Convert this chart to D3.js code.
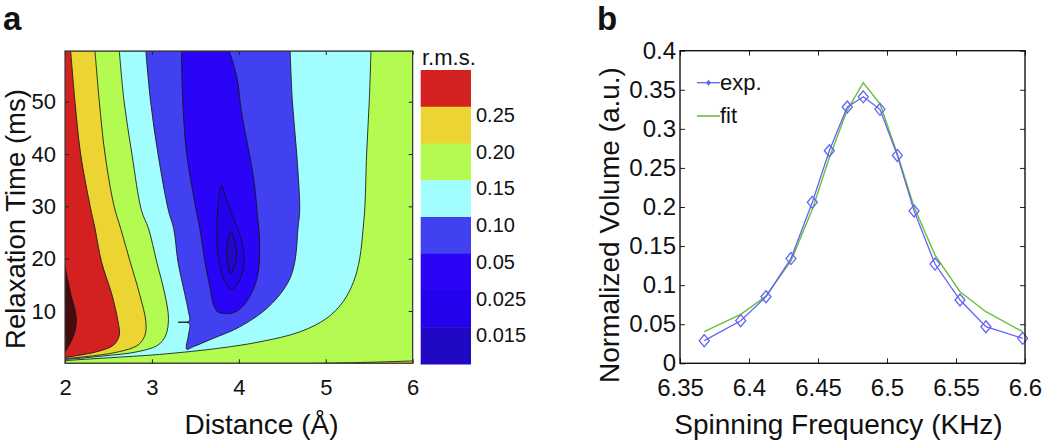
<!DOCTYPE html>
<html>
<head>
<meta charset="utf-8">
<script src="https://cdn.jsdelivr.net/npm/d3@7"></script>
<style>
  body { margin: 0; background: #fff; }
  text { font-family: "Liberation Sans", Arial, Helvetica, sans-serif; fill: #111; }
</style>
</head>
<body>
<svg id="fig" width="1050" height="444"></svg>
<script>

// ---------------------------//
//       DATA                 //
// ---------------------------//

// panel a : axes
var distTicks = [2, 3, 4, 5, 6];
var timeTicks = [10, 20, 30, 40, 50];
var timeMax = 59.7;

// panel a : colorbar levels (r.m.s.)
var rmsLabels = ["0.25", "0.20", "0.15", "0.10", "0.05", "0.025", "0.015"];

// panel a : contour lines, [distance (A), relaxation time (ms)]
var line030 = [[2.0,18.5],[2.03,16],[2.07,13],[2.11,10.5],[2.13,8.6],[2.12,6.5],[2.08,4.5],[2.03,3.0],[2.0,2.2]];
var line025 = [[2.065,59.7],[2.115,50],[2.18,40],[2.29,30],[2.345,25.8],[2.42,19.4],[2.54,13.1],[2.61,8.0],
               [2.625,5.4],[2.56,3.5],[2.365,2.2],[2.13,1.45],[2.0,1.1]];
var line020 = [[2.345,59.7],[2.395,50],[2.46,40],[2.565,30],[2.64,25.8],[2.75,19.4],[2.86,13.1],[2.93,8.0],
               [2.92,5.4],[2.84,3.5],[2.59,2.1],[2.25,1.3],[2.0,0.9]];
var line020low = [[4.8,0],[5.4,0.15],[6,0.45]];
var line015 = [[2.625,59.7],[2.68,50],[2.77,40],[2.88,29.2],[2.96,25.8],[3.055,19.4],[3.15,13.1],[3.19,8.6],
               [3.16,5.4],[3.07,3.5],[2.83,2.2],[2.44,1.4],[2.06,0.8],[2.0,0.72]];
var line015low = [[2.0,0.5],[2.10,0.63],[2.52,1.07],[3.09,1.7],[3.78,2.9],[4.24,4.1],[4.70,6.0],[5.01,8.6],
                  [5.20,11.8],[5.32,15.6],[5.39,20],[5.43,25.8],[5.45,30],[5.47,40],[5.50,50],[5.52,59.7]];
var line010 = [[2.93,59.7],[2.985,50],[3.07,40],[3.19,29.2],[3.25,25.8],[3.30,19.4],[3.38,13.1],[3.42,9.9],
               [3.43,8.1],[3.30,7.85],[3.43,7.6],[3.42,5.4],[3.40,2.7],[3.48,3.2],[3.71,4.8],[3.98,6.7],
               [4.28,9.9],[4.47,13.1],[4.59,16.3],[4.65,20],[4.68,25.8],[4.70,29.2],[4.666,40],[4.616,50],[4.59,59.7]];
var line005 = [[3.34,59.7],[3.355,50],[3.40,40],[3.51,29.2],[3.55,25.8],[3.61,19.4],[3.67,14.3],[3.71,11.1],
               [3.76,9.8],[3.84,9.5],[3.92,9.6],[3.99,10.1],[4.09,11.8],[4.21,16.3],[4.24,22.6],[4.21,29],
               [4.17,35.4],[4.03,48.1],[3.98,54.5],[3.89,59.7]];
var line0025 = [[3.80,34],[3.86,31.2],[3.92,28.5],[3.98,26],[4.04,23],[4.06,19.4],[4.03,16.8],[3.97,14.8],
                [3.91,14.2],[3.84,15.5],[3.79,18],[3.75,22],[3.75,26],[3.76,30]];
var line0015 = [[3.91,25.2],[3.95,23.5],[3.975,21.3],[3.955,19],[3.91,17.2],[3.87,19],[3.86,21.3],[3.875,23.5]];

// panel b : spinning frequency (KHz) and normalized volume
var freqTicks = [6.35, 6.4, 6.45, 6.5, 6.55, 6.6];
var volTicks = [0, 0.05, 0.1, 0.15, 0.2, 0.25, 0.3, 0.35, 0.4];
var freq = [6.3676, 6.394, 6.4123, 6.4304, 6.4459, 6.4582, 6.4712, 6.4828, 6.4949, 6.5075, 6.5196, 6.5348, 6.5529, 6.5717, 6.5983];
var volExp = [0.029, 0.0545, 0.0852, 0.134, 0.206, 0.272, 0.328, 0.341, 0.325, 0.266, 0.195, 0.127, 0.081, 0.0468, 0.032];
var volFit = [0.0404, 0.0626, 0.086, 0.131, 0.197, 0.263, 0.324, 0.359, 0.332, 0.268, 0.200, 0.1385, 0.0916, 0.066, 0.0404];


var svg = d3.select("#fig");

// ---------------------------//
//       PANEL A  SCALES      //
// ---------------------------//

var xA = d3.scaleLinear().domain([2, 6]).range([65, 412.7]);
var yA = d3.scaleLinear().domain([0, timeMax]).range([363.3, 51]);

var bandColors = ["#d22120", "#ecd532", "#b3fb50", "#a2fefe", "#4141f2", "#2a04f6", "#2301ea", "#2009c4"];
var darkRed = "#4a0b0d";

svg.append("clipPath").attr("id", "clipA")
  .append("rect")
  .attr("x", xA(2)).attr("y", yA(timeMax))
  .attr("width", xA(6) - xA(2)).attr("height", yA(0) - yA(timeMax));

var plotA = svg.append("g").attr("clip-path", "url(#clipA)");

var contourLine = d3.line()
  .x(function(d) { return xA(d[0]); })
  .y(function(d) { return yA(d[1]); })
  .curve(d3.curveCatmullRom.alpha(0.5));

var islandLine = d3.line()
  .x(function(d) { return xA(d[0]); })
  .y(function(d) { return yA(d[1]); })
  .curve(d3.curveCatmullRomClosed.alpha(0.5));

function seg(pts, first) {
  var s = contourLine(pts);
  return first ? s : "L" + s.slice(1);
}
function corner(d, t) {
  return "L" + xA(d) + "," + yA(t);
}

var regions = [
  { fill: darkRed,       path: seg(line030, true) + "Z" },
  { fill: bandColors[1], path: seg(line025, true) + corner(2, 0) + corner(6, 0) + corner(6, timeMax) + "Z" },
  { fill: bandColors[2], path: seg(line020, true) + corner(2, 0) + seg(line020low) + corner(6, timeMax) + "Z" },
  { fill: bandColors[3], path: seg(line015, true) + seg(line015low) + "Z" },
  { fill: bandColors[4], path: seg(line010, true) + "Z" },
  { fill: bandColors[5], path: seg(line005, true) + "Z" },
  { fill: bandColors[6], path: islandLine(line0025) },
  { fill: bandColors[7], path: islandLine(line0015) }
];

// background = highest band
plotA.append("rect")
  .attr("x", xA(2)).attr("y", yA(timeMax))
  .attr("width", xA(6) - xA(2)).attr("height", yA(0) - yA(timeMax))
  .style("fill", bandColors[0]);

plotA.selectAll("path.region")
  .data(regions)
  .enter()
  .append("path")
  .attr("class", "region")
  .attr("d", function(d) { return d.path; })
  .style("fill", function(d) { return d.fill; })
  .style("stroke", "#151515")
  .style("stroke-width", 1)
  .style("stroke-opacity", 0.85)
  .style("stroke-linejoin", "round");

// ---------------------------//
//       PANEL A  AXES        //
// ---------------------------//

function styleAxis(g, size) {
  g.select(".domain").remove();
  g.selectAll(".tick line").attr("stroke", "#333");
  g.selectAll(".tick text").style("font-size", size + "px").style("fill", "#111");
}

svg.append("g")
  .attr("transform", "translate(0," + yA(0) + ")")
  .call(d3.axisBottom(xA).tickValues(distTicks).tickSize(-4).tickPadding(16).tickFormat(d3.format("d")))
  .call(styleAxis, 22);

svg.append("g")
  .attr("transform", "translate(0," + yA(timeMax) + ")")
  .call(d3.axisTop(xA).tickValues(distTicks).tickSize(-4).tickFormat(""))
  .call(styleAxis, 22);

svg.append("g")
  .attr("transform", "translate(" + xA(2) + ",0)")
  .call(d3.axisLeft(yA).tickValues(timeTicks).tickSize(-4).tickPadding(9))
  .call(styleAxis, 22);

svg.append("g")
  .attr("transform", "translate(" + xA(6) + ",0)")
  .call(d3.axisRight(yA).tickValues(timeTicks).tickSize(-4).tickFormat(""))
  .call(styleAxis, 22);

svg.append("rect")
  .attr("x", xA(2)).attr("y", yA(timeMax))
  .attr("width", xA(6) - xA(2)).attr("height", yA(0) - yA(timeMax))
  .style("fill", "none").style("stroke", "#3a3a3a").style("stroke-width", 1.2);

svg.append("text")
  .attr("x", 261.5).attr("y", 434)
  .attr("text-anchor", "middle")
  .style("font-size", "28px")
  .text("Distance (Å)");

svg.append("text")
  .attr("transform", "translate(25,219) rotate(-90)")
  .attr("text-anchor", "middle")
  .style("font-size", "27.5px")
  .text("Relaxation Time (ms)");

svg.append("text")
  .attr("x", 3).attr("y", 30)
  .style("font-size", "33px").style("font-weight", "bold")
  .text("a");

// ---------------------------//
//       COLORBAR             //
// ---------------------------//

var cb = d3.scaleBand().domain(d3.range(rmsLabels.length + 1)).range([70, 364]);

svg.selectAll("rect.cbar")
  .data(bandColors)
  .enter()
  .append("rect")
  .attr("class", "cbar")
  .attr("x", 420.7)
  .attr("y", function(d, i) { return cb(i); })
  .attr("width", 50.3)
  .attr("height", cb.bandwidth() + 0.5)
  .style("fill", function(d) { return d; });

svg.selectAll("text.cbar")
  .data(rmsLabels)
  .enter()
  .append("text")
  .attr("class", "cbar")
  .attr("x", 476)
  .attr("y", function(d, i) { return cb(i + 1) + 15; })
  .style("font-size", "20px")
  .text(function(d) { return d; });

svg.append("text")
  .attr("x", 422).attr("y", 65)
  .style("font-size", "22px")
  .text("r.m.s.");

// ---------------------------//
//       PANEL B              //
// ---------------------------//

var xB = d3.scaleLinear().domain([6.35, 6.6]).range([680, 1025]);
var yB = d3.scaleLinear().domain([0, 0.4]).range([363.3, 50.7]);

var expColor = "#6262f4";
var fitColor = "#6cbd3c";

svg.append("g")
  .attr("transform", "translate(0," + yB(0) + ")")
  .call(d3.axisBottom(xB).tickValues(freqTicks).tickSize(-5).tickPadding(16).tickFormat(d3.format("")))
  .call(styleAxis, 24);

svg.append("g")
  .attr("transform", "translate(0," + yB(0.4) + ")")
  .call(d3.axisTop(xB).tickValues(freqTicks).tickSize(-5).tickFormat(""))
  .call(styleAxis, 24);

svg.append("g")
  .attr("transform", "translate(" + xB(6.35) + ",0)")
  .call(d3.axisLeft(yB).tickValues(volTicks).tickSize(-5).tickPadding(4).tickFormat(d3.format("")))
  .call(styleAxis, 24);

svg.append("g")
  .attr("transform", "translate(" + xB(6.6) + ",0)")
  .call(d3.axisRight(yB).tickValues(volTicks).tickSize(-5).tickFormat(""))
  .call(styleAxis, 24);

svg.selectAll(".tick line").attr("stroke", "#222");

var fitLine = d3.line()
  .x(function(d, i) { return xB(freq[i]); })
  .y(function(d) { return yB(d); });

svg.append("path")
  .attr("d", fitLine(volFit))
  .style("fill", "none").style("stroke", fitColor).style("stroke-width", 1.4);

svg.append("path")
  .attr("d", fitLine(volExp))
  .style("fill", "none").style("stroke", expColor).style("stroke-width", 1.3);

var diamond = "M0,-6L5,0L0,6L-5,0Z";

svg.selectAll("path.dot")
  .data(volExp)
  .enter()
  .append("path")
  .attr("class", "dot")
  .attr("transform", function(d, i) { return "translate(" + xB(freq[i]) + "," + yB(d) + ")"; })
  .attr("d", diamond)
  .style("fill", "none").style("stroke", expColor).style("stroke-width", 1.3);

svg.append("rect")
  .attr("x", xB(6.35)).attr("y", yB(0.4))
  .attr("width", xB(6.6) - xB(6.35)).attr("height", yB(0) - yB(0.4))
  .style("fill", "none").style("stroke", "#111").style("stroke-width", 1.4);

// legend
svg.append("line")
  .attr("x1", 697).attr("x2", 720).attr("y1", 82.7).attr("y2", 82.7)
  .style("stroke", expColor).style("stroke-width", 1.3);
svg.append("path")
  .attr("transform", "translate(708.5,82.7)")
  .attr("d", "M0,-3L2.5,0L0,3L-2.5,0Z")
  .style("fill", expColor);
svg.append("text")
  .attr("x", 720).attr("y", 90)
  .style("font-size", "22px")
  .text("exp.");

svg.append("line")
  .attr("x1", 697).attr("x2", 720).attr("y1", 116).attr("y2", 116)
  .style("stroke", fitColor).style("stroke-width", 1.6);
svg.append("text")
  .attr("x", 720).attr("y", 122.5)
  .style("font-size", "22px")
  .text("fit");

svg.append("text")
  .attr("x", 838.5).attr("y", 434)
  .attr("text-anchor", "middle")
  .style("font-size", "28px")
  .text("Spinning Frequency (KHz)");

svg.append("text")
  .attr("transform", "translate(619,225) rotate(-90)")
  .attr("text-anchor", "middle")
  .style("font-size", "28px")
  .text("Normalized Volume (a.u.)");

svg.append("text")
  .attr("x", 597).attr("y", 30)
  .style("font-size", "33px").style("font-weight", "bold")
  .text("b");

</script>
</body>
</html>
